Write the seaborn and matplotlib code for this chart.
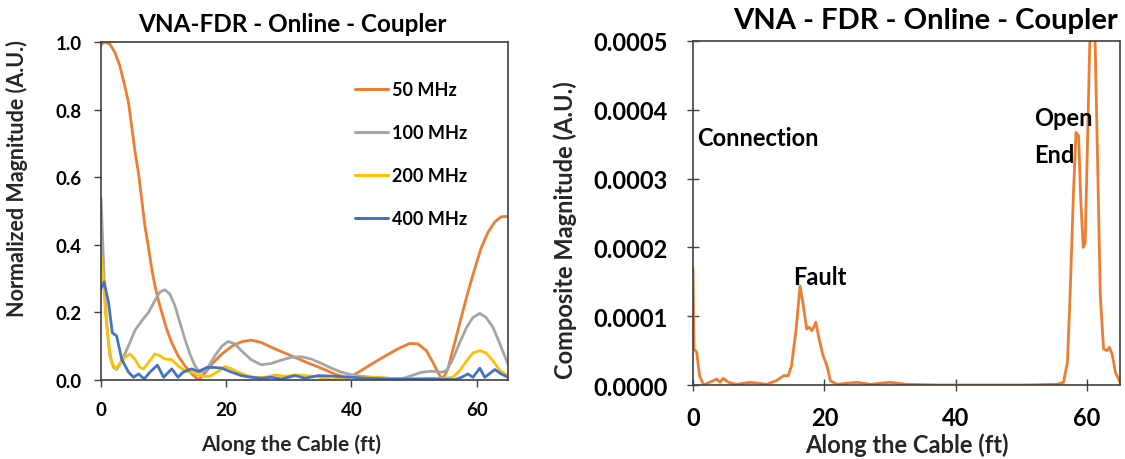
import numpy as np
import pandas as pd
import matplotlib
matplotlib.use("Agg")
import matplotlib.pyplot as plt
import seaborn as sns

# ---------------- data (left panel) ----------------
x50 = [0, 0.1, 0.64, 1.4, 2.2, 3.0, 3.8, 4.4, 4.9, 5.4, 6.0, 6.5, 7.0, 7.6, 8.1, 8.6, 9.1, 9.7, 10.5, 11.3,
       12.3, 13.4, 14.5, 15.3, 15.6, 16.3, 17.7, 19.3, 20.9, 22.4, 24.0, 25.6, 27.2, 28.8, 31, 33.1, 35.2,
       37.3, 38.9, 39.7, 41.1, 43.2, 45.3, 47.4, 49.3, 50.6, 51.97, 53, 54.1, 54.6, 55.4, 56.5, 57.6, 58.6,
       59.7, 60.7, 61.8, 62.9, 63.9, 65]
y50 = [0.99, 0.994, 1.0, 0.994, 0.97, 0.93, 0.87, 0.82, 0.75, 0.68, 0.61, 0.535, 0.457, 0.39, 0.33, 0.28,
       0.24, 0.20, 0.15, 0.11, 0.072, 0.042, 0.018, 0.005, 0.001, 0.013, 0.047, 0.077, 0.10, 0.113, 0.118,
       0.111, 0.097, 0.084, 0.067, 0.05, 0.035, 0.018, 0.008, 0.008, 0.023, 0.047, 0.07, 0.092, 0.108,
       0.107, 0.087, 0.052, 0.013, 0.003, 0.033, 0.111, 0.19, 0.26, 0.33, 0.39, 0.437, 0.468, 0.483, 0.484]

x100 = [0, 0.2, 0.5, 0.9, 1.4, 2.0, 2.5, 3.0, 3.8, 4.6, 5.4, 6.5, 7.6, 8.6, 9.4, 10.2, 11.0, 11.8, 12.6,
        13.4, 14.2, 15.0, 15.8, 16.6, 17.4, 18.2, 19.3, 20.3, 21.4, 22.4, 24, 25.6, 27.2, 28.8, 30.4, 32,
        33.6, 35.2, 36.8, 38.4, 40.5, 43.2, 45.9, 48, 49.6, 51.2, 52.8, 54.4, 55.2, 56.2, 57.3, 58.4, 59.4,
        60.5, 61.5, 62.6, 63.7, 65]
y100 = [0.54, 0.447, 0.30, 0.17, 0.072, 0.037, 0.031, 0.047, 0.077, 0.11, 0.146, 0.175, 0.20, 0.235, 0.26,
        0.267, 0.254, 0.22, 0.17, 0.121, 0.077, 0.042, 0.023, 0.025, 0.047, 0.072, 0.10, 0.114, 0.107,
        0.087, 0.06, 0.045, 0.049, 0.059, 0.067, 0.069, 0.062, 0.049, 0.035, 0.023, 0.013, 0.008, 0.005,
        0.003, 0.013, 0.023, 0.026, 0.023, 0.028, 0.062, 0.111, 0.156, 0.185, 0.197, 0.185, 0.156, 0.107,
        0.047]

x200 = [0, 0.4, 0.7, 1.2, 1.7, 2.3, 3.0, 3.8, 4.6, 5.4, 6.2, 6.8, 7.6, 8.6, 9.4, 10.2, 11.3, 12.3, 13.4,
        14.5, 15.5, 16.6, 17.4, 18.5, 19.8, 20.9, 21.9, 23.3, 24.6, 26.2, 27.8, 29.4, 31, 32.6, 34.1, 35.7,
        36.8, 38.1, 39.5, 41.6, 44.3, 46.9, 49.6, 52.2, 54.9, 56.2, 57.3, 58.4, 59.4, 60.5, 61.5, 62.6,
        63.7, 65]
y200 = [0.37, 0.29, 0.20, 0.111, 0.052, 0.033, 0.047, 0.067, 0.077, 0.062, 0.037, 0.033, 0.052, 0.077,
        0.072, 0.062, 0.06, 0.042, 0.028, 0.023, 0.015, 0.01, 0.011, 0.023, 0.04, 0.033, 0.023, 0.013,
        0.008, 0.008, 0.015, 0.011, 0.015, 0.013, 0.011, 0.005, 0.0, 0.005, 0.011, 0.008, 0.008, 0.003,
        0.003, 0.005, 0.005, 0.008, 0.028, 0.057, 0.08, 0.087, 0.08, 0.057, 0.028, 0.013]

x400 = [0, 0.5, 1.2, 1.8, 2.5, 3.3, 4.4, 5.2, 6.0, 6.9, 7.8, 9.0, 10, 11.3, 12.3, 13.1, 14.5, 15.5, 16.9,
        18.2, 19.3, 20.9, 22.4, 24, 25.6, 27.2, 28.8, 31, 32.6, 34.7, 37.3, 40, 42.7, 45.9, 49.6, 53.3,
        56.5, 57.6, 58.6, 59.4, 60.5, 61.3, 62.9, 63.9, 65]
y400 = [0.27, 0.29, 0.23, 0.14, 0.13, 0.062, 0.023, 0.008, 0.018, 0.003, 0.023, 0.044, 0.008, 0.033,
        0.008, 0.023, 0.033, 0.025, 0.037, 0.037, 0.035, 0.023, 0.013, 0.008, 0.005, 0.008, 0.003, 0.013,
        0.005, 0.013, 0.011, 0.008, 0.005, 0.003, 0.003, 0.003, 0.001, 0.008, 0.018, 0.008, 0.035, 0.008,
        0.031, 0.018, 0.008]

series_labels = ["50 MHz", "100 MHz", "200 MHz", "400 MHz"]
series_colors = ["#ED7D31", "#A5A5A5", "#FFC000", "#4472C4"]

# ---------------- data (right panel) ----------------
xc = [0, 0.15, 0.56, 1.0, 1.6, 3.1, 3.6, 4.1, 4.6, 5.4, 6.6, 8.7, 11.2, 12.7, 13.8, 14.5, 15.0, 15.7,
      16.3, 16.8, 17.3, 17.7, 18.1, 18.7, 19.2, 19.8, 20.4, 20.9, 21.9, 24.9, 27, 30, 32.5, 37.6, 45.2,
      50.3, 55.4, 56.4, 57, 57.4, 57.9, 58.3, 58.7, 59.0, 59.4, 59.7, 60.1, 60.4, 60.7, 61.2, 61.6, 62.0,
      62.5, 63.0, 63.4, 63.8, 64.3, 65]
yc = [0.00017, 0.0000523, 0.0000475, 0.0000136, 0.0, 0.0000063, 0.0000087, 0.0000039, 0.0000097,
      0.0000039, 0.000001, 0.0000039, 0.000001, 0.0000063, 0.0000136, 0.0000136, 0.000028, 0.0000814,
      0.000144, 0.000115, 0.0000814, 0.000084, 0.000079, 0.000091, 0.0000669, 0.0000426, 0.000028,
      0.0000063, 0.000001, 0.0000039, 0.000001, 0.0000039, 0.000001, 0.0, 0.0, 0.0, 0.000001, 0.0000039,
      0.000033, 0.00013, 0.000275, 0.000367, 0.000362, 0.000275, 0.0002, 0.000207, 0.000372, 0.000498,
      0.0006, 0.000503, 0.00032, 0.00013, 0.0000523, 0.00005, 0.0000547, 0.000045, 0.0000184, 0.0000039]

left_title = "VNA-FDR - Online - Coupler"
right_title = "VNA - FDR - Online - Coupler"
xlabel = "Along the Cable (ft)"
left_ylabel = "Normalized Magnitude (A.U.)"
right_ylabel = "Composite Magnitude (A.U.)"
annotations = [("Connection", 0.6, 0.00036), ("Fault", 15.2, 0.000158), ("Open\nEnd", 51.9, 0.000362)]

# ---------------- plotting ----------------
sns.set_theme(style="white")
plt.rcParams["font.family"] = ["Lato", "DejaVu Sans"]
plt.rcParams["font.weight"] = "bold"
plt.rcParams["text.color"] = "black"

W, H = 1125, 460
fig = plt.figure(figsize=(11.25, 4.6), dpi=100)
ax1 = fig.add_axes([101 / W, 1 - 381 / H, 407 / W, 338 / H])
ax2 = fig.add_axes([693 / W, 1 - 386 / H, 427 / W, 344 / H])

frames = []
for lab, xs, ys in zip(series_labels, [x50, x100, x200, x400], [y50, y100, y200, y400]):
    frames.append(pd.DataFrame({"x": xs, "y": ys, "series": lab}))
df = pd.concat(frames, ignore_index=True)

sns.lineplot(data=df, x="x", y="y", hue="series", hue_order=series_labels,
             palette=series_colors, linewidth=2, sort=False, estimator=None, ax=ax1)
ax1.set_xlim(0, 65)
ax1.set_ylim(0, 1.0)
ax1.set_xticks([0, 20, 40, 60])
ax1.set_yticks([0, 0.2, 0.4, 0.6, 0.8, 1.0])
ax1.set_yticklabels(["0.0", "0.2", "0.4", "0.6", "0.8", "1.0"])
ax1.set_xlabel(xlabel, fontsize=15, fontweight="bold")
ax1.set_ylabel(left_ylabel, fontsize=15.5, fontweight="bold")
ax1.xaxis.set_label_coords(0.468, -0.158)
ax1.yaxis.set_label_coords(-0.179, 0.60)
ax1.tick_params(axis="both", labelsize=13.5, direction="out", length=5, width=1, color="#404040",
                left=True, bottom=True, labelcolor="black")
ax1.tick_params(axis="y", pad=9)
ax1.tick_params(axis="x", pad=10)
for lbl in ax1.get_xticklabels() + ax1.get_yticklabels():
    lbl.set_fontweight("bold")
for s in ax1.spines.values():
    s.set_color("#404040")
    s.set_linewidth(1.2)
leg = ax1.legend(loc="upper left", bbox_to_anchor=(0.624, 0.885), frameon=False, fontsize=13,
                 handlelength=1.85, labelspacing=1.45, handletextpad=0.22, borderpad=0,
                 borderaxespad=0)
for t in leg.get_texts():
    t.set_fontweight("bold")
for h in leg.get_lines():
    h.set_linewidth(2.2)

dfc = pd.DataFrame({"x": xc, "y": yc})
sns.lineplot(data=dfc, x="x", y="y", color="#ED7D31", linewidth=2, sort=False, estimator=None, ax=ax2)
ax2.set_xlim(0, 65)
ax2.set_ylim(0, 0.0005)
ax2.set_xticks([0, 20, 40, 60])
ax2.set_yticks([0, 0.0001, 0.0002, 0.0003, 0.0004, 0.0005])
ax2.set_yticklabels(["0.0000", "0.0001", "0.0002", "0.0003", "0.0004", "0.0005"])
ax2.set_xlabel(xlabel, fontsize=17, fontweight="bold")
ax2.set_ylabel(right_ylabel, fontsize=17, fontweight="bold")
ax2.xaxis.set_label_coords(0.502, -0.138)
ax2.yaxis.set_label_coords(-0.272, 0.453)
ax2.tick_params(axis="both", labelsize=17, direction="inout", length=8, width=1, color="#404040",
                left=True, bottom=True, labelcolor="black")
ax2.tick_params(axis="y", pad=14)
ax2.tick_params(axis="x", pad=11)
for lbl in ax2.get_xticklabels() + ax2.get_yticklabels():
    lbl.set_fontweight("bold")
for s in ax2.spines.values():
    s.set_color("#404040")
    s.set_linewidth(1.2)
for txt, xa, ya in annotations:
    ax2.text(xa, ya, txt, fontsize=17, fontweight="bold", ha="left", va="center", linespacing=1.75)

fig.text(292.5 / W, 1 - 32 / H, left_title, fontsize=17.5, fontweight="bold", ha="center", va="baseline")
fig.text(925.5 / W, 1 - 29 / H, right_title, fontsize=21, fontweight="bold", ha="center", va="baseline")

fig.savefig("out.png", dpi=100)
